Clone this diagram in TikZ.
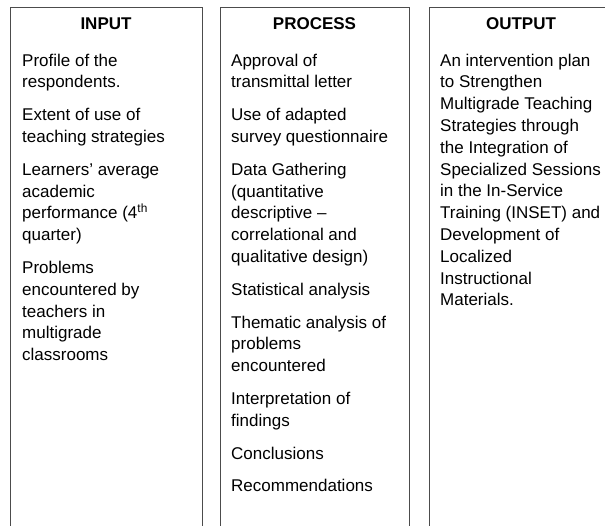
\documentclass[tikz,border=0pt]{standalone}
\usepackage{fontspec}
\setmainfont{Liberation Sans}
\begin{document}
\begin{tikzpicture}[x=1pt,y=-1pt,
  colbox/.style={draw=black!70, line width=0.9pt, inner sep=0pt, anchor=north west},
  head/.style={anchor=base, inner sep=0pt, font=\fontsize{17}{22}\selectfont\bfseries},
  entry/.style={anchor=base west, inner sep=0pt, font=\fontsize{17}{22}\selectfont}]
% page frame
\useasboundingbox (0,0) rectangle (605,525);
\clip (0,0) rectangle (605,525);
% layout constants: first baseline, line pitch, extra space between items
\def\firstbase{66}
\def\pitch{21.8}
\def\itemgap{11}

% the three columns (they run past the lower edge)
\node[colbox, minimum width=192pt, minimum height=560pt] (inbox)   at (10,7)  {};
\node[colbox, minimum width=189pt, minimum height=560pt] (procbox) at (220,7) {};
\node[colbox, minimum width=184pt, minimum height=560pt] (outbox)  at (429,7) {};

% headings
\node[head] (inhead)   at (106,29)   {INPUT};
\node[head] (prochead) at (314.5,29) {PROCESS};
\node[head] (outhead)  at (521,29)   {OUTPUT};

% INPUT entries: line index / item index / text
\foreach \l/\m/\t in {
  0/0/Profile of the,
  1/0/respondents.,
  2/1/Extent of use of,
  3/1/teaching strategies,
  4/2/Learners’ average,
  5/2/academic,
  6/2/performance (4\textsuperscript{th},
  7/2/quarter),
  8/3/Problems,
  9/3/encountered by,
  10/3/teachers in,
  11/3/multigrade,
  12/3/classrooms}
  \node[entry] (in-\l) at (22,\firstbase+\l*\pitch+\m*\itemgap) {\t};

% PROCESS entries
\foreach \l/\m/\t in {
  0/0/Approval of,
  1/0/transmittal letter,
  2/1/Use of adapted,
  3/1/survey questionnaire,
  4/2/Data Gathering,
  5/2/(quantitative,
  6/2/descriptive –,
  7/2/correlational and,
  8/2/qualitative design),
  9/3/Statistical analysis,
  10/4/Thematic analysis of,
  11/4/problems,
  12/4/encountered,
  13/5/Interpretation of,
  14/5/findings,
  15/6/Conclusions,
  16/7/Recommendations}
  \node[entry] (proc-\l) at (231,\firstbase+\l*\pitch+\m*\itemgap) {\t};

% OUTPUT entry
\foreach \l/\t in {
  0/An intervention plan,
  1/to Strengthen,
  2/Multigrade Teaching,
  3/Strategies through,
  4/the Integration of,
  5/Specialized Sessions,
  6/in the In-Service,
  7/Training (INSET) and,
  8/Development of,
  9/Localized,
  10/Instructional,
  11/Materials.}
  \node[entry] (out-\l) at (440,\firstbase+\l*\pitch) {\t};
\end{tikzpicture}
\end{document}
